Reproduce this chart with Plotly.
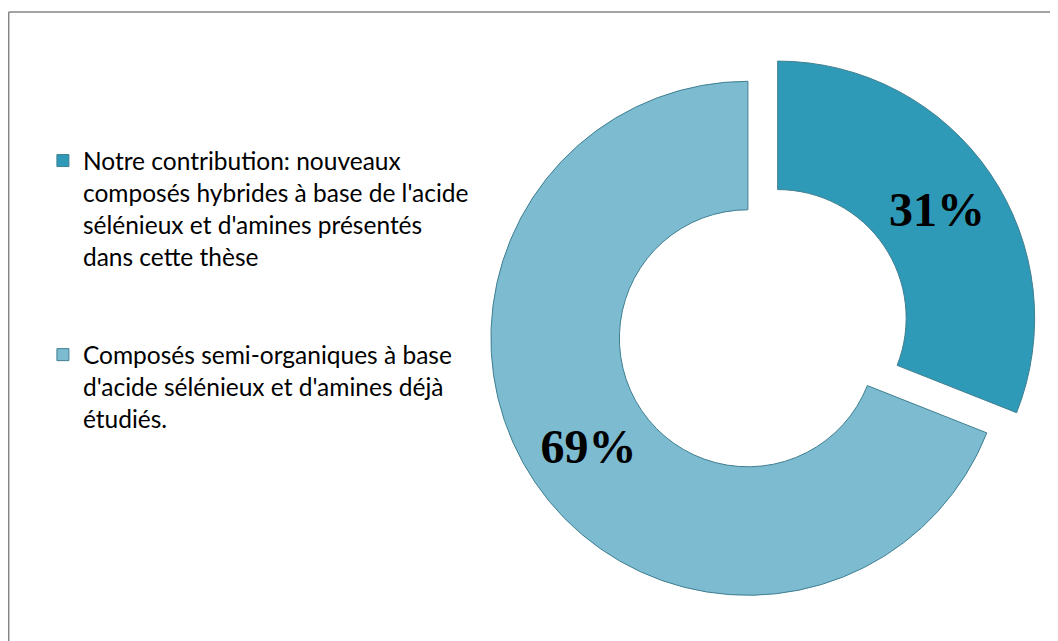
import plotly.graph_objects as go

# data
labels = ["Notre contribution: nouveaux composés hybrides à base de l'acide sélénieux et d'amines présentés dans cette thèse",
          "Composés semi-organiques à base d'acide sélénieux et d'amines déjà étudiés."]
values = [31, 69]
colors = ['#2F9AB7', '#7DBBD1']

# wrapped legend text (same words as labels)
legend_text = ["Notre contribution: nouveaux<br>composés hybrides à base de l'acide<br>sélénieux et d'amines présentés<br>dans cette thèse<br> <br> ",
               "Composés semi-organiques à base<br>d'acide sélénieux et d'amines déjà<br>étudiés."]

W, H = 1058, 641

fig = go.Figure()
fig.add_trace(go.Pie(
    labels=legend_text,
    values=values,
    hole=0.5,
    sort=False,
    direction='clockwise',
    rotation=0,
    pull=[0.07, 0.07],
    marker=dict(colors=colors, line=dict(color='#3F7F90', width=1)),
    textinfo='percent',
    textposition='inside',
    insidetextorientation='horizontal',
    textfont=dict(family='Liberation Serif', size=48, color='black', weight='bold'),
    domain=dict(x=[0.4534, 0.9734], y=[0.0715, 0.9295]),
    hoverinfo='label+percent',
))

# chart frame (top and left edges visible)
fig.add_shape(type='line', xref='paper', yref='paper',
              x0=0.7/W, y0=1-4/H, x1=1, y1=1-4/H,
              line=dict(color='#868686', width=1.5))
fig.add_shape(type='line', xref='paper', yref='paper',
              x0=0.7/W, y0=1-4/H, x1=0.7/W, y1=0,
              line=dict(color='#868686', width=1.5))

fig.update_layout(
    width=W, height=H,
    margin=dict(l=0, r=0, t=0, b=0),
    paper_bgcolor='white',
    plot_bgcolor='white',
    showlegend=True,
    legend=dict(x=0.033, y=0.797, xanchor='left', yanchor='top',
                valign='top',
                font=dict(family='Lato', size=24.5, color='black'),
                bgcolor='rgba(0,0,0,0)'),
)

fig.write_html("out.html")
